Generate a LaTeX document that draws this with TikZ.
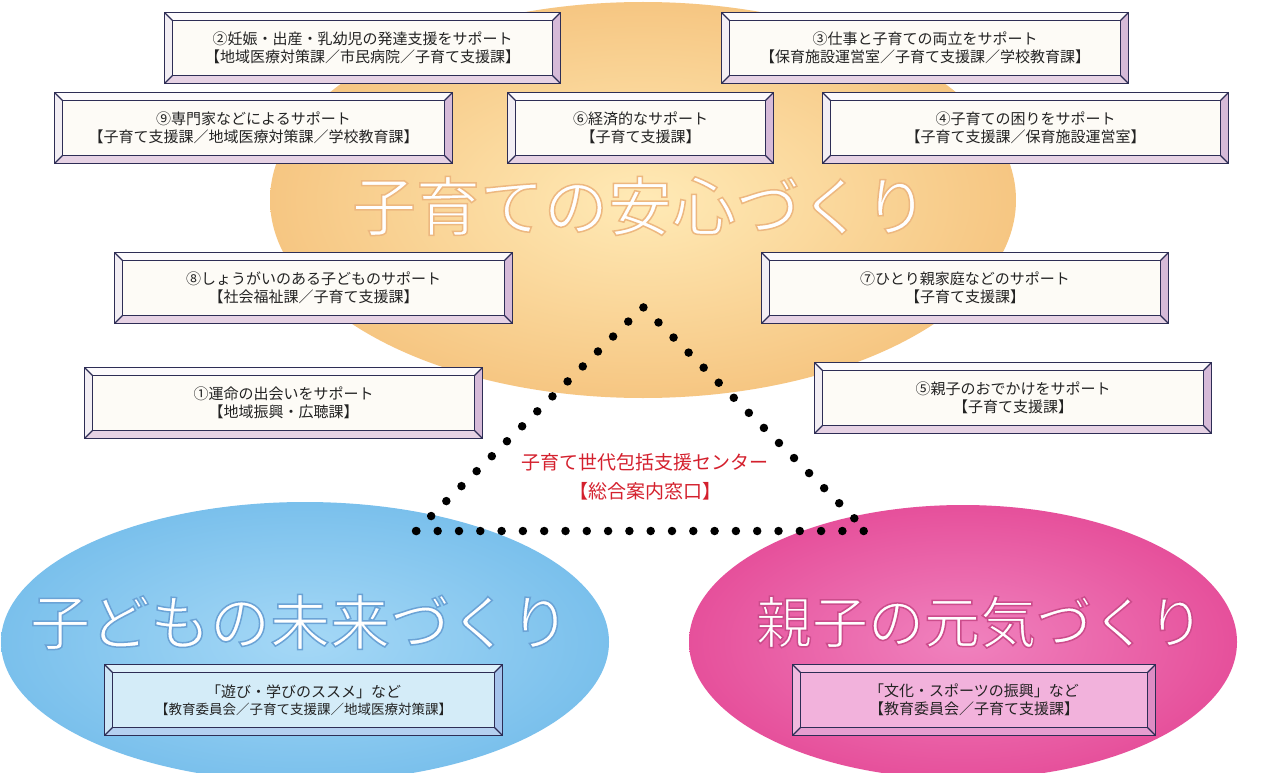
\documentclass[tikz,border=0pt]{standalone}
\usepackage{fontspec}
\setmainfont{Noto Sans CJK JP}
\usetikzlibrary{calc}
\definecolor{navy}{RGB}{45,45,85}
\definecolor{txt}{RGB}{35,35,35}
\definecolor{redtxt}{RGB}{212,32,45}
% cream boxes
\definecolor{cream-in}{RGB}{253,251,246}
\definecolor{cream-top}{RGB}{252,250,252}
\definecolor{cream-left}{RGB}{242,238,244}
\definecolor{cream-right}{RGB}{214,186,216}
\definecolor{cream-bot}{RGB}{230,210,228}
% blue box
\definecolor{blue-in}{RGB}{212,236,248}
\definecolor{blue-top}{RGB}{222,240,250}
\definecolor{blue-left}{RGB}{205,230,246}
\definecolor{blue-right}{RGB}{165,195,236}
\definecolor{blue-bot}{RGB}{180,208,240}
% pink box
\definecolor{pink-in}{RGB}{242,178,220}
\definecolor{pink-top}{RGB}{245,195,228}
\definecolor{pink-left}{RGB}{240,185,222}
\definecolor{pink-right}{RGB}{222,140,196}
\definecolor{pink-bot}{RGB}{230,158,208}
\tikzset{
  bevnode/.style={rectangle, minimum height=70pt, inner sep=0pt, align=center,
    text=txt, font=\fontsize{15}{17.5}\selectfont},
  frame/.style={draw=navy, line width=1.1pt, line join=miter},
  title/.style={font=\fontsize{#1}{#1}\selectfont, inner sep=0pt, text=white},
}
\newcommand\bevbox[5]{%
  % #1 name, #2 position, #3 width, #4 colour set, #5 text
  \node[bevnode, minimum width=#3pt, fill=#4-in] (#1) at (#2) {#5};
  \coordinate (#1-a) at ($(#1.north west)+(8,8)$);
  \coordinate (#1-b) at ($(#1.north east)+(-8,8)$);
  \coordinate (#1-c) at ($(#1.south east)+(-8,-8)$);
  \coordinate (#1-d) at ($(#1.south west)+(8,-8)$);
  \fill[#4-top] (#1.north west) -- (#1.north east) -- (#1-b) -- (#1-a) -- cycle;
  \fill[#4-left] (#1.north west) -- (#1-a) -- (#1-d) -- (#1.south west) -- cycle;
  \fill[#4-right] (#1.north east) -- (#1.south east) -- (#1-c) -- (#1-b) -- cycle;
  \fill[#4-bot] (#1.south west) -- (#1-d) -- (#1-c) -- (#1.south east) -- cycle;
  \draw[frame] (#1.north west) rectangle (#1.south east);
  \draw[frame] (#1-a) rectangle (#1-c);
  \draw[frame] (#1.north west) -- (#1-a) (#1.north east) -- (#1-b)
               (#1.south east) -- (#1-c) (#1.south west) -- (#1-d);
}
% outlined white text: fill white, stroke in the given RGB (0-1 values)
\newcommand\outl[2]{\special{pdf:literal direct 2 Tr 1.5 w #1 RG}#2\special{pdf:literal direct 0 Tr}}
\begin{document}
\begin{tikzpicture}[x=1pt, y=-1pt]
\useasboundingbox (0,0) rectangle (1271,773);
\clip (0,0) rectangle (1271,773);
\fill[white] (0,0) rectangle (1271,773);

% ellipses
\path[inner color={rgb,255:red,255;green,234;blue,182}, outer color={rgb,255:red,246;green,198;blue,130}]
  (643,200) ellipse [x radius=373pt, y radius=198pt];
\path[inner color={rgb,255:red,165;green,216;blue,246}, outer color={rgb,255:red,122;green,192;blue,236}]
  (305,642) ellipse [x radius=304pt, y radius=140pt];
\path[inner color={rgb,255:red,240;green,130;blue,190}, outer color={rgb,255:red,230;green,80;blue,155}]
  (963,642) ellipse [x radius=274pt, y radius=137pt];

% titles
\node[title=64] (t1) at (640,206) {\outl{0.93 0.72 0.5}{子育ての安心づくり}};
\node[title=60] (t2) at (300,622) {\outl{0.42 0.64 0.84}{子どもの未来づくり}};
\node[title=56] (t3) at (980,622) {\outl{0.8 0.3 0.55}{親子の元気づくり}};

% boxes
\bevbox{b2}{362.5,48}{395}{cream}{②妊娠・出産・乳幼児の発達支援をサポート\\【地域医療対策課／市民病院／子育て支援課】}
\bevbox{b3}{925,48}{406}{cream}{③仕事と子育ての両立をサポート\\【保育施設運営室／子育て支援課／学校教育課】}
\bevbox{b9}{253.5,128}{397}{cream}{⑨専門家などによるサポート\\【子育て支援課／地域医療対策課／学校教育課】}
\bevbox{b6}{640.5,128}{265}{cream}{⑥経済的なサポート\\【子育て支援課】}
\bevbox{b4}{1025.5,128}{405}{cream}{④子育ての困りをサポート\\【子育て支援課／保育施設運営室】}
\bevbox{b8}{313.5,288}{397}{cream}{⑧しょうがいのある子どものサポート\\【社会福祉課／子育て支援課】}
\bevbox{b7}{965,288}{406}{cream}{⑦ひとり親家庭などのサポート\\【子育て支援課】}
\bevbox{b1}{283.5,403}{397}{cream}{①運命の出会いをサポート\\【地域振興・広聴課】}
\bevbox{b5}{1013,398}{396}{cream}{⑤親子のおでかけをサポート\\【子育て支援課】}
\bevbox{b10}{303.5,700}{397}{blue}{「遊び・学びのススメ」など\\{\fontsize{13.5}{16}\selectfont【教育委員会／子育て支援課／地域医療対策課】}}
\bevbox{b11}{974,700}{362}{pink}{「文化・スポーツの振興」など\\【教育委員会／子育て支援課】}

% dotted triangle
\coordinate (apex) at (643,307);
\coordinate (bl) at (416,531);
\coordinate (br) at (867,531);
\draw[line width=8.5pt, line cap=round, dash pattern=on 0pt off 21.3pt]
  (bl) -- (apex) -- (br) -- cycle;

% centre label
\node[align=center, text=redtxt, font=\fontsize{19}{29}\selectfont, inner sep=0pt]
  (center) at (645,477) {子育て世代包括支援センター\\【総合案内窓口】};
\end{tikzpicture}
\end{document}
